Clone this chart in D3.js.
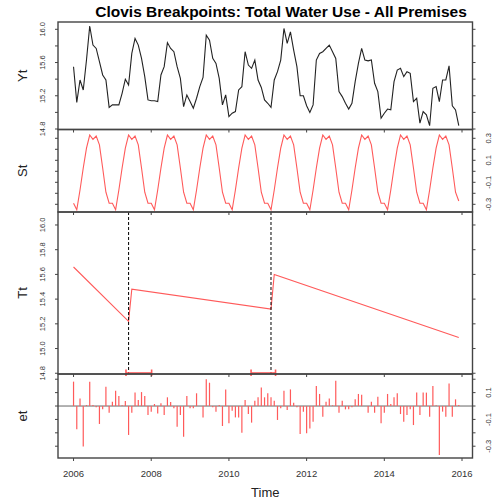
<!DOCTYPE html>
<html>
<head>
<meta charset="utf-8">
<script src="https://cdn.jsdelivr.net/npm/d3@7"></script>
<style>
  body { margin: 0; background: #fff; }
  svg { display: block; font-family: "Liberation Sans", Arial, sans-serif; }
</style>
</head>
<body>
<div id="chart"></div>
<script>
// monthly series, Jan 2006 .. Dec 2015
const startYear = 2006;

const observed = [
  15.55, 15.12, 15.39, 15.27, 15.63, 16.04, 15.81, 15.77, 15.61, 15.45, 15.39, 15.06,
  15.09, 15.09, 15.09, 15.23, 15.40, 15.33, 15.71, 15.89, 15.81, 15.65, 15.43, 15.15,
  15.14, 15.14, 15.13, 15.45, 15.55, 15.84, 15.77, 15.73, 15.55, 15.41, 15.07, 15.21,
  15.13, 15.05, 15.17, 15.31, 15.42, 15.93, 15.87, 15.65, 15.59, 15.41, 15.09, 15.21,
  14.95, 14.99, 15.01, 15.27, 15.31, 15.73, 15.57, 15.53, 15.63, 15.39, 15.30, 15.15,
  15.11, 15.06, 15.39, 15.49, 15.63, 16.01, 15.83, 15.97, 15.75, 15.55, 15.20, 15.20,
  15.08, 15.00, 15.09, 15.63, 15.71, 15.73, 15.77, 15.81, 15.73, 15.65, 15.25, 15.19,
  15.11, 15.04, 15.11, 15.37, 15.59, 15.77, 15.63, 15.62, 15.63, 15.35, 15.25, 14.93,
  14.99, 15.04, 15.03, 15.37, 15.51, 15.53, 15.43, 15.49, 15.47, 15.13, 15.17, 14.87,
  15.01, 14.97, 14.84, 15.29, 15.31, 15.13, 15.39, 15.39, 15.56, 15.08, 15.03, 14.84
];

const seasonal = [
  -0.29, -0.35, -0.17, 0.03, 0.21, 0.33, 0.29, 0.32, 0.24, 0.03, -0.19, -0.29,
  -0.29, -0.35, -0.17, 0.03, 0.21, 0.33, 0.29, 0.32, 0.24, 0.03, -0.19, -0.29,
  -0.29, -0.35, -0.17, 0.03, 0.21, 0.33, 0.29, 0.32, 0.24, 0.03, -0.19, -0.29,
  -0.29, -0.35, -0.17, 0.03, 0.21, 0.33, 0.29, 0.32, 0.24, 0.03, -0.19, -0.29,
  -0.29, -0.35, -0.17, 0.03, 0.21, 0.33, 0.29, 0.32, 0.24, 0.03, -0.19, -0.29,
  -0.29, -0.35, -0.17, 0.03, 0.21, 0.33, 0.29, 0.32, 0.24, 0.03, -0.19, -0.29,
  -0.29, -0.35, -0.17, 0.03, 0.21, 0.33, 0.29, 0.32, 0.24, 0.03, -0.19, -0.29,
  -0.29, -0.35, -0.17, 0.03, 0.21, 0.33, 0.29, 0.32, 0.24, 0.03, -0.19, -0.29,
  -0.29, -0.35, -0.17, 0.03, 0.21, 0.33, 0.29, 0.32, 0.24, 0.03, -0.19, -0.29,
  -0.29, -0.35, -0.17, 0.03, 0.21, 0.33, 0.29, 0.32, 0.24, 0.03, -0.19, -0.27
];

const remainder = [
  0.182, -0.174, 0.057, -0.303, 0.007, 0.182, 0.007, -0.010, -0.134, -0.025, 0.144, -0.050,
  0.032, 0.114, 0.075, 0.005, 0.037, -0.216, -0.050, 0.100, 0.045, 0.104, 0.075, -0.067,
  -0.042, 0.015, -0.055, 0.020, -0.067, 0.065, 0.030, -0.017, -0.154, -0.067, -0.229, 0.075,
  -0.017, -0.017, 0.095, 0.000, -0.085, 0.199, 0.174, -0.010, -0.042, 0.007, -0.149, 0.124,
  -0.129, -0.035, -0.085, -0.085, -0.199, 0.045, -0.060, -0.124, 0.040, 0.065, 0.139, 0.065,
  0.095, 0.065, 0.040, -0.104, -0.017, 0.114, -0.030, 0.124, 0.025, -0.010, -0.209, -0.042,
  -0.204, -0.167, -0.117, 0.149, 0.090, -0.080, 0.032, 0.057, 0.005, 0.189, -0.050, 0.040,
  -0.025, -0.025, -0.010, 0.050, 0.090, 0.085, 0.000, -0.050, 0.032, -0.050, 0.070, -0.129,
  -0.050, 0.090, 0.015, 0.065, 0.095, -0.060, -0.117, -0.067, -0.025, -0.142, 0.100, -0.067,
  0.100, 0.100, -0.080, 0.149, 0.005, -0.366, -0.042, -0.080, 0.169, -0.080, 0.050, 0.007
];

// trend is piecewise linear: months where the segments start / end
const trendMonth = [0, 17, 18, 61, 62, 119];
const trendValue = [15.66, 15.22, 15.48, 15.32, 15.60, 15.09];

const breakTimes = [2007.417, 2011.083];
const ciLower = [2007.35, 2010.57];
const ciUpper = [2008.01, 2011.20];

const xTicks = [2006, 2008, 2010, 2012, 2014, 2016];
const ytTicks = [14.8, 15.0, 15.2, 15.4, 15.6, 15.8, 16.0];
const ytLabels = ['14.8', '15.2', '15.6', '16.0'];
const stTicks = [-0.3, -0.2, -0.1, 0, 0.1, 0.2, 0.3];
const stLabels = ['-0.3', '-0.1', '0.1', '0.3'];
const ttTicks = [14.8, 15.0, 15.2, 15.4, 15.6, 15.8, 16.0];
const ttLabels = ['14.8', '15.0', '15.2', '15.4', '15.6', '15.8', '16.0'];
const etTicks = [-0.3, -0.2, -0.1, 0, 0.1, 0.2];
const etLabels = ['-0.3', '-0.1', '0.1'];

const W = 497, H = 503;
const left = 58, right = 472.5;
const red = '#ff5a5a';

const svg = d3.select('#chart').append('svg')
    .attr('width', W)
    .attr('height', H);

const x = d3.scaleLinear()
    .domain([2005.60, 2016.27])
    .range([left, right]);

const time = i => startYear + i / 12;

const panels = [
    { name: 'Yt', top: 22, bottom: 129.5, domain: [14.794, 16.088], side: 'left', ticks: ytTicks, labels: ytLabels },
    { name: 'St', top: 129.5, bottom: 212, domain: [-0.37, 0.38], side: 'right', ticks: stTicks, labels: stLabels },
    { name: 'Tt', top: 212, bottom: 374, domain: [14.794, 16.105], side: 'left', ticks: ttTicks, labels: ttLabels },
    { name: 'et', top: 374, bottom: 458, domain: [-0.388, 0.239], side: 'right', ticks: etTicks, labels: etLabels }
];

panels.forEach(p => {
    p.y = d3.scaleLinear().domain(p.domain).range([p.bottom, p.top]);
});

const [pY, pS, pT, pE] = panels;

// title
svg.append('text')
    .attr('x', 281)
    .attr('y', 17)
    .attr('text-anchor', 'middle')
    .style('font-size', '15.5px')
    .style('font-weight', 'bold')
    .text('Clovis Breakpoints: Total Water Use - All Premises');

// observed
svg.append('path')
    .datum(observed)
    .attr('fill', 'none')
    .attr('stroke', '#222')
    .attr('stroke-width', 1.1)
    .attr('d', d3.line().x((d, i) => x(time(i))).y(d => pY.y(d)));

// seasonal
svg.append('path')
    .datum(seasonal)
    .attr('fill', 'none')
    .attr('stroke', red)
    .attr('stroke-width', 1.1)
    .attr('d', d3.line().x((d, i) => x(time(i))).y(d => pS.y(d)));

// trend
svg.append('path')
    .datum(trendMonth.map((m, i) => [time(m), trendValue[i]]))
    .attr('fill', 'none')
    .attr('stroke', red)
    .attr('stroke-width', 1.1)
    .attr('d', d3.line().x(d => x(d[0])).y(d => pT.y(d[1])));

// breakpoints
svg.selectAll('.brk')
    .data(breakTimes)
    .enter()
    .append('line')
    .attr('x1', d => x(d)).attr('x2', d => x(d))
    .attr('y1', pT.top).attr('y2', pT.bottom)
    .attr('stroke', '#000')
    .attr('stroke-width', 1)
    .attr('stroke-dasharray', '3,2');

// confidence intervals of the breaks
const ciY = pT.bottom - 1;
ciLower.forEach((lo, i) => {
    const hi = ciUpper[i];
    const g = svg.append('g').attr('stroke', red).attr('stroke-width', 1.6);
    g.append('line').attr('x1', x(lo)).attr('x2', x(hi)).attr('y1', ciY).attr('y2', ciY);
    g.append('line').attr('x1', x(lo)).attr('x2', x(lo)).attr('y1', ciY - 3.5).attr('y2', ciY + 3);
    g.append('line').attr('x1', x(hi)).attr('x2', x(hi)).attr('y1', ciY - 3.5).attr('y2', ciY + 3);
});

// remainder
svg.append('line')
    .attr('x1', left).attr('x2', right)
    .attr('y1', pE.y(0)).attr('y2', pE.y(0))
    .attr('stroke', '#666')
    .attr('stroke-width', 1);

svg.selectAll('.res')
    .data(remainder)
    .enter()
    .append('line')
    .attr('x1', (d, i) => x(time(i)))
    .attr('x2', (d, i) => x(time(i)))
    .attr('y1', pE.y(0))
    .attr('y2', d => pE.y(d))
    .attr('stroke', red)
    .attr('stroke-width', 1.2);

// frames, y ticks and labels
panels.forEach(p => {
    svg.append('rect')
        .attr('x', left).attr('y', p.top)
        .attr('width', right - left).attr('height', p.bottom - p.top)
        .attr('fill', 'none')
        .attr('stroke', '#444')
        .attr('stroke-width', 1.4);

    [left, right].forEach(edge => {
        const dir = edge === left ? -1 : 1;
        svg.selectAll(null)
            .data(p.ticks)
            .enter()
            .append('line')
            .attr('x1', edge).attr('x2', edge + dir * 3)
            .attr('y1', d => p.y(d)).attr('y2', d => p.y(d))
            .attr('stroke', '#444');
    });

    const lx = p.side === 'left' ? 44.5 : 491.4;
    svg.selectAll(null)
        .data(p.labels)
        .enter()
        .append('text')
        .attr('transform', d => `translate(${lx},${p.y(+d)}) rotate(-90)`)
        .attr('text-anchor', 'middle')
        .style('font-size', '7.5px')
        .style('fill', '#333')
        .text(d => d);

    svg.append('text')
        .attr('transform', `translate(26.7,${(p.top + p.bottom) / 2}) rotate(-90)`)
        .attr('text-anchor', 'middle')
        .style('font-size', '13px')
        .style('fill', '#222')
        .text(p.name);

    // x ticks on each panel bottom
    svg.selectAll(null)
        .data(xTicks)
        .enter()
        .append('line')
        .attr('x1', d => x(d)).attr('x2', d => x(d))
        .attr('y1', p.bottom).attr('y2', p.bottom + 3)
        .attr('stroke', '#444');
});

// x axis labels
svg.selectAll('.xl')
    .data(xTicks)
    .enter()
    .append('text')
    .attr('x', d => x(d))
    .attr('y', 477)
    .attr('text-anchor', 'middle')
    .style('font-size', '9.5px')
    .style('fill', '#333')
    .text(d => d);

svg.append('text')
    .attr('x', (left + right) / 2)
    .attr('y', 497)
    .attr('text-anchor', 'middle')
    .style('font-size', '13px')
    .style('fill', '#222')
    .text('Time');
</script>
</body>
</html>
